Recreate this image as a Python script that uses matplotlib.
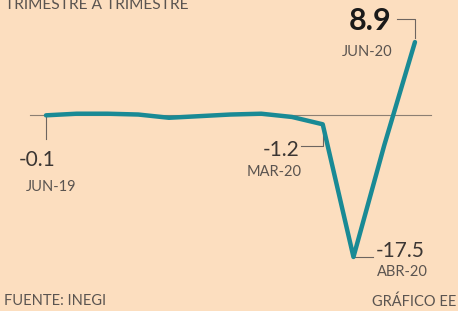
import matplotlib
matplotlib.use('Agg')
import matplotlib.pyplot as plt

months = ['JUN-19', 'JUL-19', 'AGO-19', 'SEP-19', 'OCT-19', 'NOV-19', 'DIC-19',
          'ENE-20', 'FEB-20', 'MAR-20', 'ABR-20', 'MAY-20', 'JUN-20']
values = [-0.1, 0.1, 0.1, 0.0, -0.4, -0.2, 0.0, 0.1, -0.3, -1.2, -17.5, -3.8, 8.9]

title = 'TRIMESTRE A TRIMESTRE'
source = 'FUENTE: INEGI'
credit = 'GRÁFICO EE'

BG = '#FCDEBF'
TEAL = '#198A95'
TXT = '#3b3633'
GREY = '#5a5450'

plt.rcParams['font.family'] = ['Lato', 'DejaVu Sans']

fig = plt.figure(figsize=(4.58, 3.11), dpi=100)
fig.patch.set_facecolor(BG)
ax = fig.add_axes([0, 0, 1, 1])
ax.set_facecolor(BG)
ax.set_axis_off()

x = list(range(len(values)))
ax.set_xlim(-1.496, 13.40)
ax.set_ylim(-24.14, 14.07)

# zero line
ax.plot([-0.52, 12.52], [0, 0], color='#8c7f73', lw=0.8, zorder=1)
ax.plot(x, values, color=TEAL, lw=3.2, solid_joinstyle='round',
        solid_capstyle='round', zorder=3)

fig.canvas.draw()
T = ax.transData


def px(i):
    return T.transform((x[i], values[i]))


def connector(pts):
    xs = [p[0] for p in pts]
    ys = [p[1] for p in pts]
    ax.plot(xs, ys, transform=None, color='#6d6560', lw=0.8, zorder=2)


def label(i, dx, dy, s, size, weight='normal', color=TXT, ha='center'):
    p = px(i)
    fig.text(p[0] + dx, p[1] + dy, s, transform=None, fontsize=size,
             fontweight=weight, color=color, ha=ha, va='center')


SMALL = 10.5

# JUN-19
i0 = 0
p = px(i0)
connector([(p[0], p[1]), (p[0], p[1] - 24)])
label(i0, -9, -45, '%.1f' % values[i0], 15)
label(i0, 5, -72, months[i0], SMALL, color=GREY)

# MAR-20
i = 9
p = px(i)
connector([(p[0], p[1] - 2), (p[0], p[1] - 22), (p[0] - 22, p[1] - 22)])
label(i, -42, -26, '%.1f' % values[i], 15)
label(i, -49, -48, months[i], SMALL, color=GREY)

# ABR-20
i = 10
p = px(i)
connector([(p[0], p[1]), (p[0] + 20, p[1])])
label(i, 47, 6, '%.1f' % values[i], 15)
label(i, 49, -15, months[i], SMALL, color=GREY)

# JUN-20
i = 12
p = px(i)
connector([(p[0], p[1] + 4), (p[0], p[1] + 23), (p[0] - 18, p[1] + 23)])
label(i, -45, 21, '%.1f' % values[i], 22, weight='bold', color='#1a1a1a')
label(i, -48, -10, months[i], SMALL, color=GREY)

fig.text(0.01, 302 / 311, title, ha='left', va='baseline', fontsize=11.2,
         color=GREY)
fig.text(0.008, 6 / 311, source, ha='left', va='baseline', fontsize=SMALL,
         color=GREY)
fig.text(0.996, 5 / 311, credit, ha='right', va='baseline', fontsize=SMALL,
         color=GREY)

fig.savefig('out.png', dpi=100, facecolor=BG)
